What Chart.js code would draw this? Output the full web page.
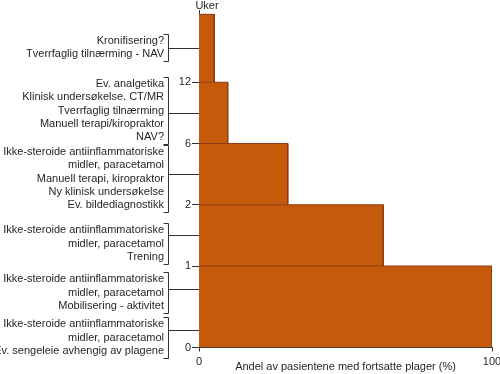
<!DOCTYPE html>
<html>
<head>
<meta charset="utf-8">
<script src="https://cdn.jsdelivr.net/npm/chart.js@4"></script>
<style>
  body { margin: 0; background: #fff; }
</style>
</head>
<body>
<canvas id="chart" width="500" height="374"></canvas>
<script>
// y axis is not linear in weeks: each mark gets its own slot
const weekTicks = ['0', '1', '2', '6', '12'];
const weekSlots = [0, 1.33, 2.33, 3.33, 4.33];
const topSlot = 5.44;
const dashSlot = 0.585; // ~3 dager

// share of patients with ongoing complaints (%) in each band, bottom to top
const ongoingShare = [100, 62.9, 30.3, 9.8, 5.2];

// advice next to each band, bottom to top (bottom band split at the dashed line)
const notes = [
    ['Ikke-steroide antiinflammatoriske', 'midler, paracetamol', 'Ev. sengeleie avhengig av plagene'],
    ['Ikke-steroide antiinflammatoriske', 'midler, paracetamol', 'Mobilisering - aktivitet'],
    ['Ikke-steroide antiinflammatoriske', 'midler, paracetamol', 'Trening'],
    ['Ikke-steroide antiinflammatoriske', 'midler, paracetamol', 'Manuell terapi, kiropraktor', 'Ny klinisk undersøkelse', 'Ev. bildediagnostikk'],
    ['Ev. analgetika', 'Klinisk undersøkelse. CT/MR', 'Tverrfaglig tilnærming', 'Manuell terapi/kiropraktor', 'NAV?'],
    ['Kronifisering?', 'Tverrfaglig tilnærming - NAV']
];
const noteNudge = [7, 3, 8, 4, -3, -1];

const barFill = '#c65a0b';
const barEdge = '#8e3a16';
const inkColor = '#231f20';
const font = { family: '"Liberation Sans", Arial, sans-serif', size: 11 };

const bandEdges = weekSlots.concat([topSlot]);

// one dataset per band: top edge + right edge, filled down to the band's bottom
const datasets = ongoingShare.map(function(share, i) {
    const y0 = bandEdges[i];
    const y1 = bandEdges[i + 1];
    return {
        data: [{ x: 0, y: y1 }, { x: share, y: y1 }, { x: share, y: y0 }],
        fill: { value: y0 },
        backgroundColor: barFill,
        borderColor: barEdge,
        borderWidth: 1,
        pointRadius: 0
    };
});

datasets.push({
    data: [{ x: 0, y: dashSlot }, { x: 100, y: dashSlot }],
    fill: false,
    borderColor: '#9a3a1c',
    borderWidth: 1,
    borderDash: [5.5, 4],
    pointRadius: 0
});

const notesPlugin = {
    id: 'notes',
    afterDraw(chart) {
        const ctx = chart.ctx;
        const y = chart.scales.y;
        const left = chart.chartArea.left;
        const noteBands = [[0, dashSlot], [dashSlot, weekSlots[1]]];
        for (let i = 1; i < bandEdges.length - 1; i++) {
            noteBands.push([bandEdges[i], bandEdges[i + 1]]);
        }
        const lineH = 13.3;
        const bracketX = 168.5;

        ctx.save();
        ctx.font = font.size + 'px ' + font.family;
        ctx.fillStyle = inkColor;
        ctx.strokeStyle = '#333';
        ctx.lineWidth = 1;
        ctx.textAlign = 'right';
        ctx.textBaseline = 'middle';

        notes.forEach(function(lines, i) {
            const mid = Math.round(y.getPixelForValue((noteBands[i][0] + noteBands[i][1]) / 2)) + 0.5;
            const center = mid + noteNudge[i];
            const firstY = center - (lines.length - 1) * lineH / 2;
            lines.forEach(function(txt, k) {
                ctx.fillText(txt, 164, firstY + k * lineH);
            });
            const top = Math.round(firstY - 7) + 0.5;
            const bottom = Math.round(firstY + (lines.length - 1) * lineH + 7) + 0.5;
            ctx.beginPath();
            ctx.moveTo(bracketX - 5, top);
            ctx.lineTo(bracketX, top);
            ctx.lineTo(bracketX, bottom);
            ctx.lineTo(bracketX - 5, bottom);
            ctx.moveTo(bracketX, mid);
            ctx.lineTo(left, mid);
            ctx.stroke();
        });

        ctx.textAlign = 'center';
        ctx.fillText('Uker', 207, 6);
        ctx.restore();
    }
};

new Chart(document.getElementById('chart').getContext('2d'), {
    type: 'line',
    data: { datasets: datasets },
    plugins: [notesPlugin],
    options: {
        responsive: false,
        animation: false,
        layout: { padding: { top: 10, right: 0, left: 0, bottom: 0 } },
        plugins: {
            legend: { display: false },
            tooltip: { enabled: false }
        },
        scales: {
            x: {
                type: 'linear',
                min: 0,
                max: 100,
                afterBuildTicks: function(scale) {
                    scale.ticks = [{ value: 0 }, { value: 100 }];
                },
                afterFit: function(scale) {
                    scale.height = 26.5;
                    scale.paddingLeft = 0;
                    scale.paddingRight = 8;
                },
                grid: { drawOnChartArea: false, tickLength: 4, color: '#333' },
                border: { color: '#333' },
                ticks: { padding: 4, color: inkColor, font: font, maxRotation: 0 },
                title: {
                    display: true,
                    text: 'Andel av pasientene med fortsatte plager (%)',
                    color: inkColor,
                    font: font,
                    padding: { top: 0, bottom: 0 }
                }
            },
            y: {
                type: 'linear',
                min: 0,
                max: 5.51,
                afterBuildTicks: function(scale) {
                    scale.ticks = weekSlots.map(function(v) { return { value: v }; });
                },
                afterFit: function(scale) {
                    scale.width = 199;
                },
                grid: { drawOnChartArea: false, tickLength: 7, color: '#333' },
                border: { color: '#333' },
                ticks: {
                    padding: 1,
                    color: inkColor,
                    font: font,
                    callback: function(value, index) {
                        return weekTicks[index];
                    }
                }
            }
        }
    }
});
</script>
</body>
</html>
